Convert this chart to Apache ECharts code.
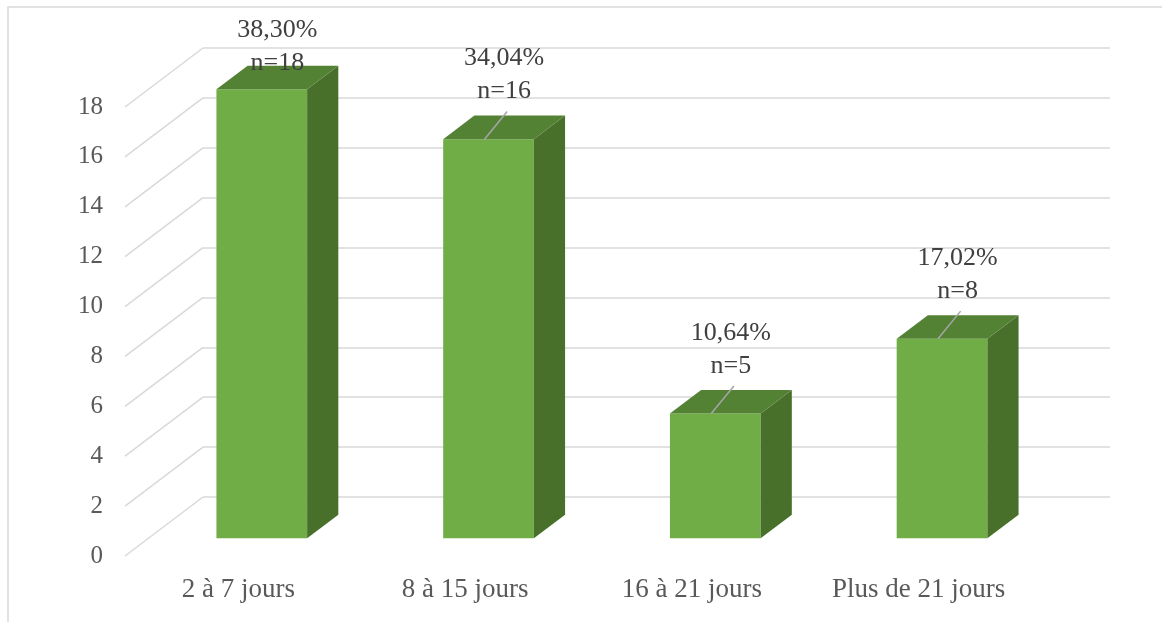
<!DOCTYPE html>
<html>
<head>
<meta charset="utf-8">
<title>Durée</title>
<script src="https://cdn.jsdelivr.net/npm/echarts@6/dist/echarts.min.js"></script>
<style>
  html, body { margin: 0; padding: 0; background: #fff; }
  #chart { width: 1162px; height: 622px; }
</style>
</head>
<body>
<div id="chart"></div>
<script>
// données
const categories = ['2 à 7 jours', '8 à 15 jours', '16 à 21 jours', 'Plus de 21 jours']
const counts = [18, 16, 5, 8]
const yTicks = [0, 2, 4, 6, 8, 10, 12, 14, 16, 18]

const total = counts.reduce((a, b) => a + b, 0)
const percentLabels = counts.map(c => (c / total * 100).toFixed(2).replace('.', ',') + '%')

// fausse perspective façon Excel 3D
const FLOOR_DX = -78 // décalage mur du fond -> bord avant
const FLOOR_DY = 59
const FRONT_D = 0.7 // profondeur de la face avant de la barre
const BACK_D = 0.3
const BAR_RATIO = 0.4
const FONT = '"Liberation Serif", "Times New Roman", serif'

const chart = echarts.init(document.getElementById('chart'))

function renderDiagonal(params, api) {
  const y = api.coord([0, api.value(1)])[1]
  const x0 = params.coordSys.x
  return {
    type: 'line',
    shape: { x1: x0, y1: y, x2: x0 + FLOOR_DX, y2: y + FLOOR_DY },
    style: { stroke: '#d9d9d9', lineWidth: 1.5 }
  }
}

function renderBar(params, api) {
  const cat = api.value(0)
  const v = api.value(1)
  const top = api.coord([cat, v])
  const base = api.coord([cat, 0])
  const w = api.size([1, 0])[0] * BAR_RATIO
  const fx = top[0] + FLOOR_DX * FRONT_D - w / 2
  const fyTop = top[1] + FLOOR_DY * FRONT_D
  const fyBase = base[1] + FLOOR_DY * FRONT_D
  const ddx = FLOOR_DX * (BACK_D - FRONT_D)
  const ddy = FLOOR_DY * (BACK_D - FRONT_D)
  const backTop = fyTop + ddy

  // étiquette
  const lx = fx + w / 2 + ddx / 2
  const ny = Math.max(backTop - 24, 63)
  const children = [
    {
      type: 'rect',
      shape: { x: fx, y: fyTop, width: w, height: fyBase - fyTop },
      style: { fill: '#70ad47' }
    },
    {
      type: 'polygon',
      shape: { points: [[fx + w, fyTop], [fx + w + ddx, fyTop + ddy], [fx + w + ddx, fyBase + ddy], [fx + w, fyBase]] },
      style: { fill: '#48702b' }
    },
    {
      type: 'polygon',
      shape: { points: [[fx, fyTop], [fx + w, fyTop], [fx + w + ddx, fyTop + ddy], [fx + ddx, fyTop + ddy]] },
      style: { fill: '#548235' }
    }
  ]
  if (fyTop - (ny + 20) > 8) {
    children.push({
      type: 'line',
      shape: { x1: fx + w / 2 - 4, y1: fyTop, x2: lx + 3, y2: ny + 20 },
      style: { stroke: '#a6a6a6', lineWidth: 1.5 }
    })
  }
  children.push({
    type: 'text',
    style: {
      x: lx, y: ny - 33, text: percentLabels[params.dataIndex],
      align: 'center', verticalAlign: 'middle',
      font: '26px ' + FONT, fill: '#404040'
    }
  }, {
    type: 'text',
    style: {
      x: lx, y: ny, text: 'n=' + counts[params.dataIndex],
      align: 'center', verticalAlign: 'middle',
      font: '26px ' + FONT, fill: '#404040'
    }
  })
  return { type: 'group', children }
}

const backGrid = { left: 203, right: 52, top: 48, bottom: 125 }
const frontGrid = {
  left: backGrid.left + FLOOR_DX,
  right: backGrid.right - FLOOR_DX,
  top: backGrid.top + FLOOR_DY,
  bottom: backGrid.bottom - FLOOR_DY
}

chart.setOption({
  backgroundColor: '#fff',
  animation: false,
  graphic: [{
    type: 'rect',
    shape: { x: 8, y: 7, width: 1200, height: 700 },
    style: { fill: 'none', stroke: '#d9d9d9', lineWidth: 1.5 },
    silent: true
  }],
  grid: [backGrid, frontGrid],
  xAxis: [
    {
      gridIndex: 0, type: 'category', data: categories,
      axisLine: { show: false }, axisTick: { show: false }, axisLabel: { show: false }
    },
    {
      gridIndex: 1, type: 'category', data: categories,
      axisLine: { show: false }, axisTick: { show: false },
      axisLabel: { color: '#595959', fontSize: 27, fontFamily: FONT, margin: 20, interval: 0 }
    }
  ],
  yAxis: [
    {
      gridIndex: 0, type: 'value', min: 0, max: 18, interval: 2,
      axisLine: { show: false }, axisTick: { show: false }, axisLabel: { show: false },
      splitLine: { lineStyle: { color: '#d9d9d9', width: 1.5 } }
    },
    {
      gridIndex: 1, type: 'value', min: 0, max: 18, interval: 2,
      axisLine: { show: false }, axisTick: { show: false }, splitLine: { show: false },
      axisLabel: { color: '#595959', fontSize: 25, fontFamily: FONT, margin: 22 }
    }
  ],
  series: [
    {
      type: 'custom', xAxisIndex: 0, yAxisIndex: 0,
      renderItem: renderDiagonal,
      data: yTicks.map(t => [0, t]),
      silent: true
    },
    {
      type: 'custom', xAxisIndex: 0, yAxisIndex: 0,
      renderItem: renderBar,
      data: counts.map((c, i) => [i, c]),
      z: 3
    }
  ]
})
</script>
</body>
</html>
